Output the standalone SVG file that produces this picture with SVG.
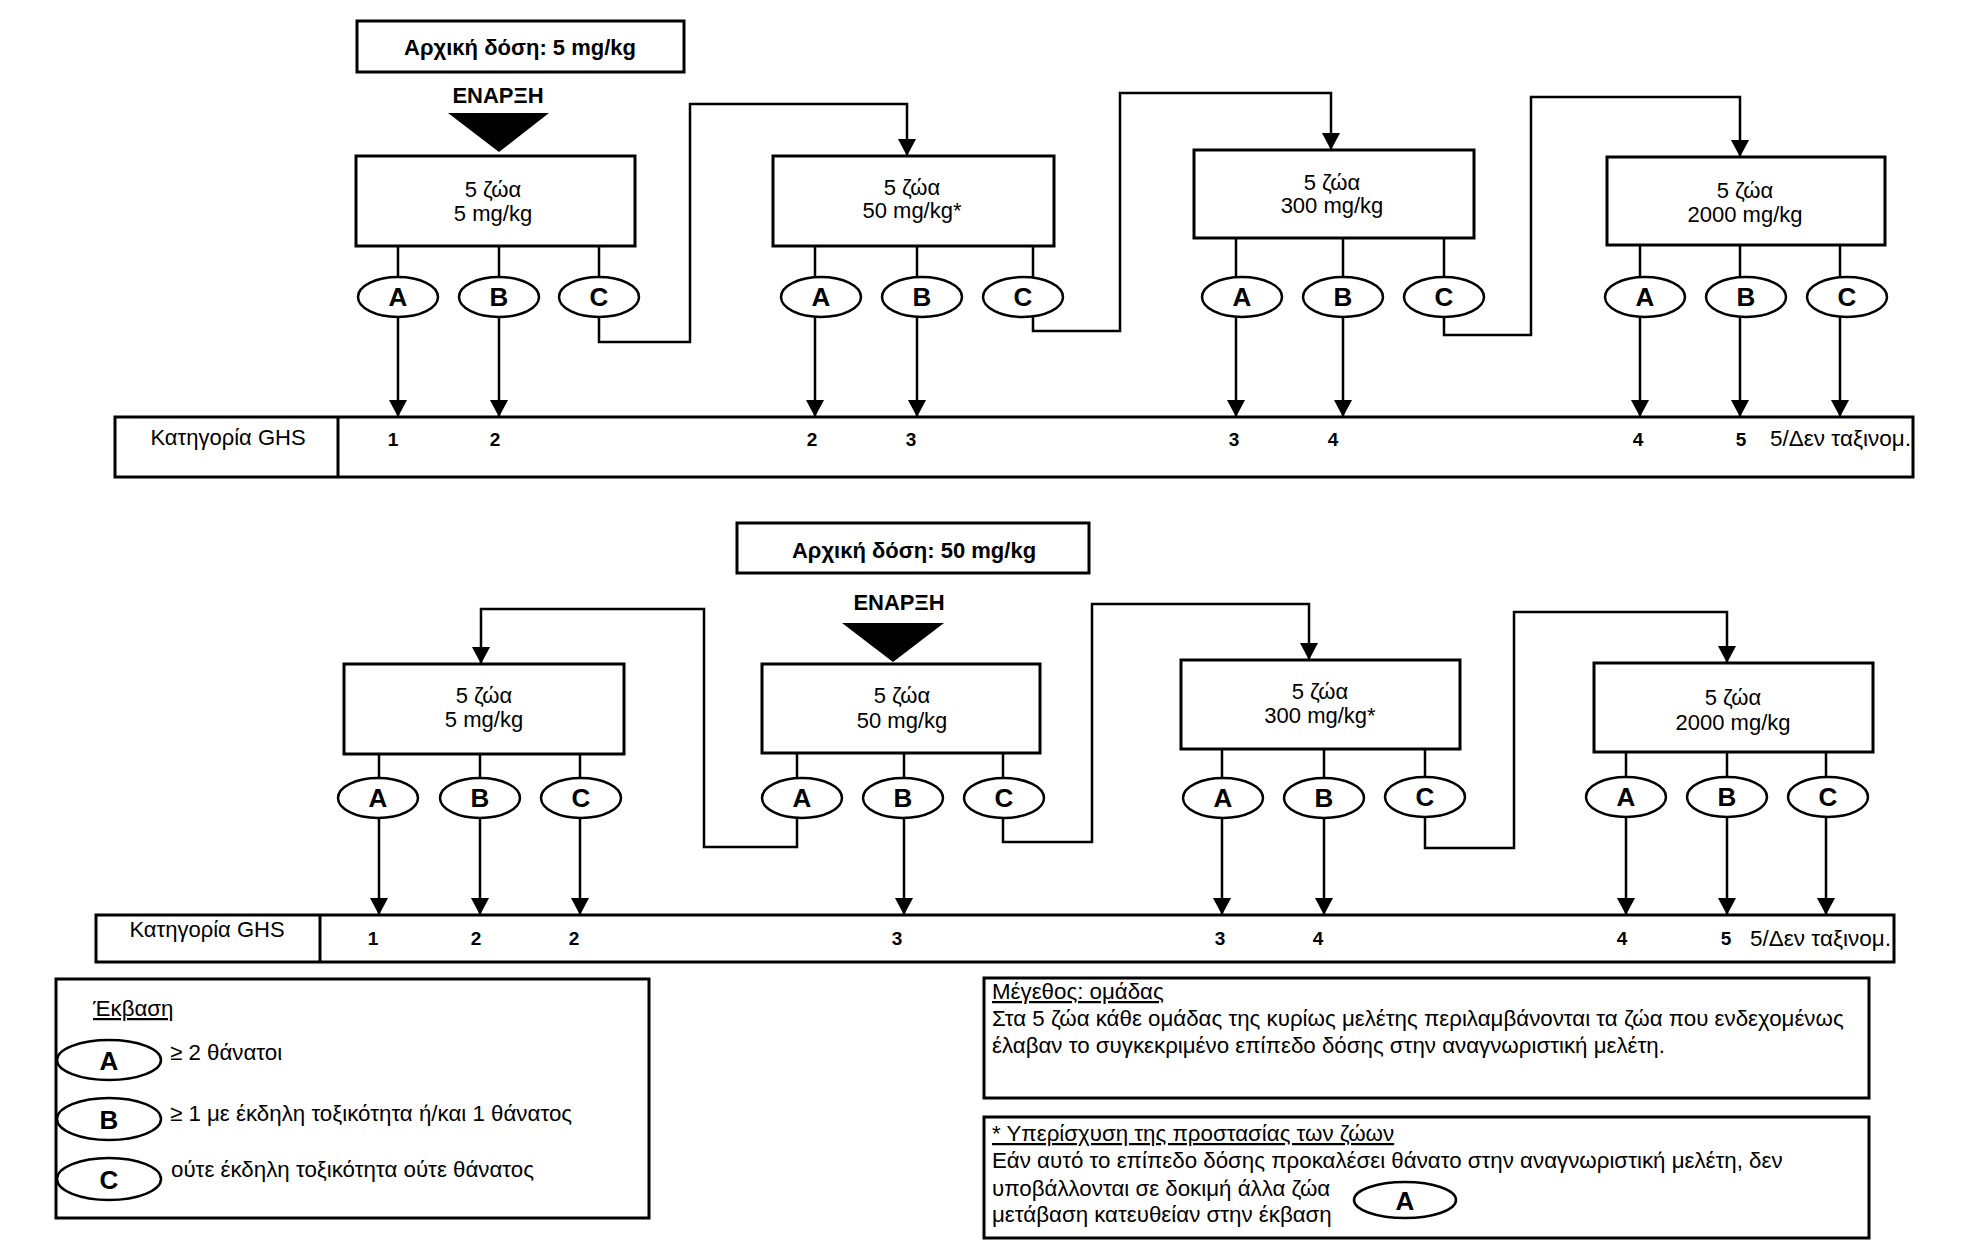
<svg xmlns="http://www.w3.org/2000/svg" width="1969" height="1260" viewBox="0 0 1969 1260">
<defs>
<marker id="ah" markerUnits="userSpaceOnUse" markerWidth="18" markerHeight="18" refX="17" refY="9" orient="auto" viewBox="0 0 18 18">
<path d="M0,0 L17,9 L0,18 z" fill="#000"/>
</marker>
<style>
.box{fill:#fff;stroke:#000;stroke-width:3}
.ell{fill:#fff;stroke:#000;stroke-width:2.5}
.ln{fill:none;stroke:#000;stroke-width:2.5}
.ar{fill:none;stroke:#000;stroke-width:2.5;marker-end:url(#ah)}
text{font-family:"Liberation Sans",Arial,Helvetica,sans-serif;fill:#000}
.t{font-size:22px;text-anchor:middle}
.tl{font-size:22.5px}
.ttl{font-size:22px;font-weight:bold;text-anchor:middle}
.num{font-size:19px;font-weight:bold;text-anchor:middle}
.let{font-size:26px;font-weight:bold;text-anchor:middle}
.p{font-size:22.3px}
.u{text-decoration:underline}
</style>
</defs>
<rect width="1969" height="1260" fill="#fff"/>

<!-- ============ TOP SECTION ============ -->
<g id="title-top">
<rect class="box" x="357" y="21" width="327" height="51"/>
<text class="ttl" x="520" y="55">Αρχική δόση: 5 mg/kg</text>
</g>
<g id="start-top">
<text class="ttl" x="498" y="103">ΕΝΑΡΞΗ</text>
<polygon points="448,113 549,113 499,152" fill="#000"/>
</g>

<g id="connectors">
<!-- top box1 -->
<line class="ln" x1="398" y1="246" x2="398" y2="277"/>
<line class="ln" x1="499" y1="246" x2="499" y2="277"/>
<line class="ln" x1="599" y1="246" x2="599" y2="277"/>
<line class="ar" x1="398" y1="317" x2="398" y2="417"/>
<line class="ar" x1="499" y1="317" x2="499" y2="417"/>
<polyline class="ar" points="599,317 599,342 690,342 690,104 907,104 907,156"/>
<!-- top box2 -->
<line class="ln" x1="815" y1="246" x2="815" y2="277"/>
<line class="ln" x1="917" y1="246" x2="917" y2="277"/>
<line class="ln" x1="1033" y1="246" x2="1033" y2="278"/>
<line class="ar" x1="815" y1="317" x2="815" y2="417"/>
<line class="ar" x1="917" y1="317" x2="917" y2="417"/>
<polyline class="ar" points="1033,316 1033,331 1120,331 1120,93 1331,93 1331,150"/>
<!-- top box3 -->
<line class="ln" x1="1236" y1="238" x2="1236" y2="277"/>
<line class="ln" x1="1343" y1="238" x2="1343" y2="277"/>
<line class="ln" x1="1444" y1="238" x2="1444" y2="277"/>
<line class="ar" x1="1236" y1="317" x2="1236" y2="417"/>
<line class="ar" x1="1343" y1="317" x2="1343" y2="417"/>
<polyline class="ar" points="1444,317 1444,335 1531,335 1531,97 1740,97 1740,157"/>
<!-- top box4 -->
<line class="ln" x1="1640" y1="245" x2="1640" y2="277"/>
<line class="ln" x1="1740" y1="245" x2="1740" y2="277"/>
<line class="ln" x1="1840" y1="245" x2="1840" y2="277"/>
<line class="ar" x1="1640" y1="317" x2="1640" y2="417"/>
<line class="ar" x1="1740" y1="317" x2="1740" y2="417"/>
<line class="ar" x1="1840" y1="317" x2="1840" y2="417"/>

<!-- bottom box1 -->
<line class="ln" x1="379" y1="754" x2="379" y2="778"/>
<line class="ln" x1="480" y1="754" x2="480" y2="778"/>
<line class="ln" x1="580" y1="754" x2="580" y2="778"/>
<line class="ar" x1="379" y1="818" x2="379" y2="915"/>
<line class="ar" x1="480" y1="818" x2="480" y2="915"/>
<line class="ar" x1="580" y1="818" x2="580" y2="915"/>
<!-- bottom box2 -->
<line class="ln" x1="797" y1="753" x2="797" y2="779"/>
<line class="ln" x1="904" y1="753" x2="904" y2="778"/>
<line class="ln" x1="1003" y1="753" x2="1003" y2="778"/>
<polyline class="ar" points="797,817 797,847 704,847 704,609 481,609 481,664"/>
<line class="ar" x1="904" y1="818" x2="904" y2="915"/>
<polyline class="ar" points="1003,818 1003,842 1092,842 1092,604 1309,604 1309,660"/>
<!-- bottom box3 -->
<line class="ln" x1="1222" y1="749" x2="1222" y2="778"/>
<line class="ln" x1="1324" y1="749" x2="1324" y2="778"/>
<line class="ln" x1="1425" y1="749" x2="1425" y2="778"/>
<line class="ar" x1="1222" y1="818" x2="1222" y2="915"/>
<line class="ar" x1="1324" y1="818" x2="1324" y2="915"/>
<polyline class="ar" points="1425,818 1425,848 1514,848 1514,612 1727,612 1727,663"/>
<!-- bottom box4 -->
<line class="ln" x1="1626" y1="752" x2="1626" y2="777"/>
<line class="ln" x1="1727" y1="752" x2="1727" y2="777"/>
<line class="ln" x1="1826" y1="752" x2="1826" y2="777"/>
<line class="ar" x1="1626" y1="817" x2="1626" y2="915"/>
<line class="ar" x1="1727" y1="817" x2="1727" y2="915"/>
<line class="ar" x1="1826" y1="817" x2="1826" y2="915"/>
</g>

<g id="t-box1">
<rect class="box" x="356" y="156" width="279" height="90"/>
<text class="t" x="493" y="197">5 ζώα</text>
<text class="t" x="493" y="221">5 mg/kg</text>
</g>
<g id="t-box1-A"><ellipse class="ell" cx="398" cy="297" rx="40" ry="20"/><text class="let" x="398" y="306">A</text></g>
<g id="t-box1-B"><ellipse class="ell" cx="499" cy="297" rx="40" ry="20"/><text class="let" x="499" y="306">B</text></g>
<g id="t-box1-C"><ellipse class="ell" cx="599" cy="297" rx="40" ry="20"/><text class="let" x="599" y="306">C</text></g>

<g id="t-box2">
<rect class="box" x="773" y="156" width="281" height="90"/>
<text class="t" x="912" y="195">5 ζώα</text>
<text class="t" x="912" y="218">50 mg/kg*</text>
</g>
<g id="t-box2-A"><ellipse class="ell" cx="821" cy="297" rx="40" ry="20"/><text class="let" x="821" y="306">A</text></g>
<g id="t-box2-B"><ellipse class="ell" cx="922" cy="297" rx="40" ry="20"/><text class="let" x="922" y="306">B</text></g>
<g id="t-box2-C"><ellipse class="ell" cx="1023" cy="297" rx="40" ry="20"/><text class="let" x="1023" y="306">C</text></g>

<g id="t-box3">
<rect class="box" x="1194" y="150" width="280" height="88"/>
<text class="t" x="1332" y="190">5 ζώα</text>
<text class="t" x="1332" y="213">300 mg/kg</text>
</g>
<g id="t-box3-A"><ellipse class="ell" cx="1242" cy="297" rx="40" ry="20"/><text class="let" x="1242" y="306">A</text></g>
<g id="t-box3-B"><ellipse class="ell" cx="1343" cy="297" rx="40" ry="20"/><text class="let" x="1343" y="306">B</text></g>
<g id="t-box3-C"><ellipse class="ell" cx="1444" cy="297" rx="40" ry="20"/><text class="let" x="1444" y="306">C</text></g>

<g id="t-box4">
<rect class="box" x="1607" y="157" width="278" height="88"/>
<text class="t" x="1745" y="198">5 ζώα</text>
<text class="t" x="1745" y="222">2000 mg/kg</text>
</g>
<g id="t-box4-A"><ellipse class="ell" cx="1645" cy="297" rx="40" ry="20"/><text class="let" x="1645" y="306">A</text></g>
<g id="t-box4-B"><ellipse class="ell" cx="1746" cy="297" rx="40" ry="20"/><text class="let" x="1746" y="306">B</text></g>
<g id="t-box4-C"><ellipse class="ell" cx="1847" cy="297" rx="40" ry="20"/><text class="let" x="1847" y="306">C</text></g>

<g id="t-ghs">
<rect class="box" x="115" y="417" width="1798" height="60"/>
<line class="ln" x1="338" y1="417" x2="338" y2="477" style="stroke-width:3"/>
<text class="t" x="228" y="445">Κατηγορία GHS</text>
<text class="num" x="393" y="446">1</text>
<text class="num" x="495" y="446">2</text>
<text class="num" x="812" y="446">2</text>
<text class="num" x="911" y="446">3</text>
<text class="num" x="1234" y="446">3</text>
<text class="num" x="1333" y="446">4</text>
<text class="num" x="1638" y="446">4</text>
<text class="num" x="1741" y="446">5</text>
<text class="tl" x="1770" y="446">5/Δεν ταξινομ.</text>
</g>

<!-- ============ BOTTOM SECTION ============ -->
<g id="title-bottom">
<rect class="box" x="737" y="523" width="352" height="50"/>
<text class="ttl" x="914" y="558">Αρχική δόση: 50 mg/kg</text>
</g>
<g id="start-bottom">
<text class="ttl" x="899" y="610">ΕΝΑΡΞΗ</text>
<polygon points="842,623 944,623 893,662" fill="#000"/>
</g>

<g id="b-box1">
<rect class="box" x="344" y="664" width="280" height="90"/>
<text class="t" x="484" y="703">5 ζώα</text>
<text class="t" x="484" y="727">5 mg/kg</text>
</g>
<g id="b-box1-A"><ellipse class="ell" cx="378" cy="798" rx="40" ry="20"/><text class="let" x="378" y="807">A</text></g>
<g id="b-box1-B"><ellipse class="ell" cx="480" cy="798" rx="40" ry="20"/><text class="let" x="480" y="807">B</text></g>
<g id="b-box1-C"><ellipse class="ell" cx="581" cy="798" rx="40" ry="20"/><text class="let" x="581" y="807">C</text></g>

<g id="b-box2">
<rect class="box" x="762" y="664" width="278" height="89"/>
<text class="t" x="902" y="703">5 ζώα</text>
<text class="t" x="902" y="728">50 mg/kg</text>
</g>
<g id="b-box2-A"><ellipse class="ell" cx="802" cy="798" rx="40" ry="20"/><text class="let" x="802" y="807">A</text></g>
<g id="b-box2-B"><ellipse class="ell" cx="903" cy="798" rx="40" ry="20"/><text class="let" x="903" y="807">B</text></g>
<g id="b-box2-C"><ellipse class="ell" cx="1004" cy="798" rx="40" ry="20"/><text class="let" x="1004" y="807">C</text></g>

<g id="b-box3">
<rect class="box" x="1181" y="660" width="279" height="89"/>
<text class="t" x="1320" y="699">5 ζώα</text>
<text class="t" x="1320" y="723">300 mg/kg*</text>
</g>
<g id="b-box3-A"><ellipse class="ell" cx="1223" cy="798" rx="40" ry="20"/><text class="let" x="1223" y="807">A</text></g>
<g id="b-box3-B"><ellipse class="ell" cx="1324" cy="798" rx="40" ry="20"/><text class="let" x="1324" y="807">B</text></g>
<g id="b-box3-C"><ellipse class="ell" cx="1425" cy="797" rx="40" ry="20"/><text class="let" x="1425" y="806">C</text></g>

<g id="b-box4">
<rect class="box" x="1594" y="663" width="279" height="89"/>
<text class="t" x="1733" y="705">5 ζώα</text>
<text class="t" x="1733" y="730">2000 mg/kg</text>
</g>
<g id="b-box4-A"><ellipse class="ell" cx="1626" cy="797" rx="40" ry="20"/><text class="let" x="1626" y="806">A</text></g>
<g id="b-box4-B"><ellipse class="ell" cx="1727" cy="797" rx="40" ry="20"/><text class="let" x="1727" y="806">B</text></g>
<g id="b-box4-C"><ellipse class="ell" cx="1828" cy="797" rx="40" ry="20"/><text class="let" x="1828" y="806">C</text></g>

<g id="b-ghs">
<rect class="box" x="96" y="915" width="1798" height="47"/>
<line class="ln" x1="320" y1="915" x2="320" y2="962" style="stroke-width:3"/>
<text class="t" x="207" y="937">Κατηγορία GHS</text>
<text class="num" x="373" y="945">1</text>
<text class="num" x="476" y="945">2</text>
<text class="num" x="574" y="945">2</text>
<text class="num" x="897" y="945">3</text>
<text class="num" x="1220" y="945">3</text>
<text class="num" x="1318" y="945">4</text>
<text class="num" x="1622" y="945">4</text>
<text class="num" x="1726" y="945">5</text>
<text class="tl" x="1750" y="946">5/Δεν ταξινομ.</text>
</g>

<!-- ============ LEGEND ============ -->
<g id="legend">
<rect class="box" x="56" y="979" width="593" height="239"/>
<text class="p u" x="93" y="1016">Έκβαση</text>
<ellipse class="ell" cx="109" cy="1060" rx="52" ry="20"/>
<text class="let" x="109" y="1070">A</text>
<text class="p" x="170" y="1060">≥ 2 θάνατοι</text>
<ellipse class="ell" cx="109" cy="1119" rx="52" ry="21"/>
<text class="let" x="109" y="1129">B</text>
<text class="p" x="170" y="1121">≥ 1 με έκδηλη τοξικότητα ή/και 1 θάνατος</text>
<ellipse class="ell" cx="109" cy="1179" rx="52" ry="21"/>
<text class="let" x="109" y="1189">C</text>
<text class="p" x="171" y="1177">ούτε έκδηλη τοξικότητα ούτε θάνατος</text>
</g>

<g id="note-group-size">
<rect class="box" x="984" y="978" width="885" height="120"/>
<text class="p u" x="992" y="999">Μέγεθος: ομάδας</text>
<text class="p" x="992" y="1026">Στα 5 ζώα κάθε ομάδας της κυρίως μελέτης περιλαμβάνονται τα ζώα που ενδεχομένως</text>
<text class="p" x="992" y="1053">έλαβαν το συγκεκριμένο επίπεδο δόσης στην αναγνωριστική μελέτη.</text>
</g>

<g id="note-welfare">
<rect class="box" x="984" y="1117" width="885" height="121"/>
<text class="p u" x="992" y="1141">* Υπερίσχυση της προστασίας των ζώων</text>
<text class="p" x="992" y="1168">Εάν αυτό το επίπεδο δόσης προκαλέσει θάνατο στην αναγνωριστική μελέτη, δεν</text>
<text class="p" x="992" y="1196">υποβάλλονται σε δοκιμή άλλα ζώα</text>
<text class="p" x="992" y="1222">μετάβαση κατευθείαν στην έκβαση</text>
<ellipse class="ell" cx="1405" cy="1200" rx="51" ry="18"/>
<text class="let" x="1405" y="1210">A</text>
</g>
</svg>
